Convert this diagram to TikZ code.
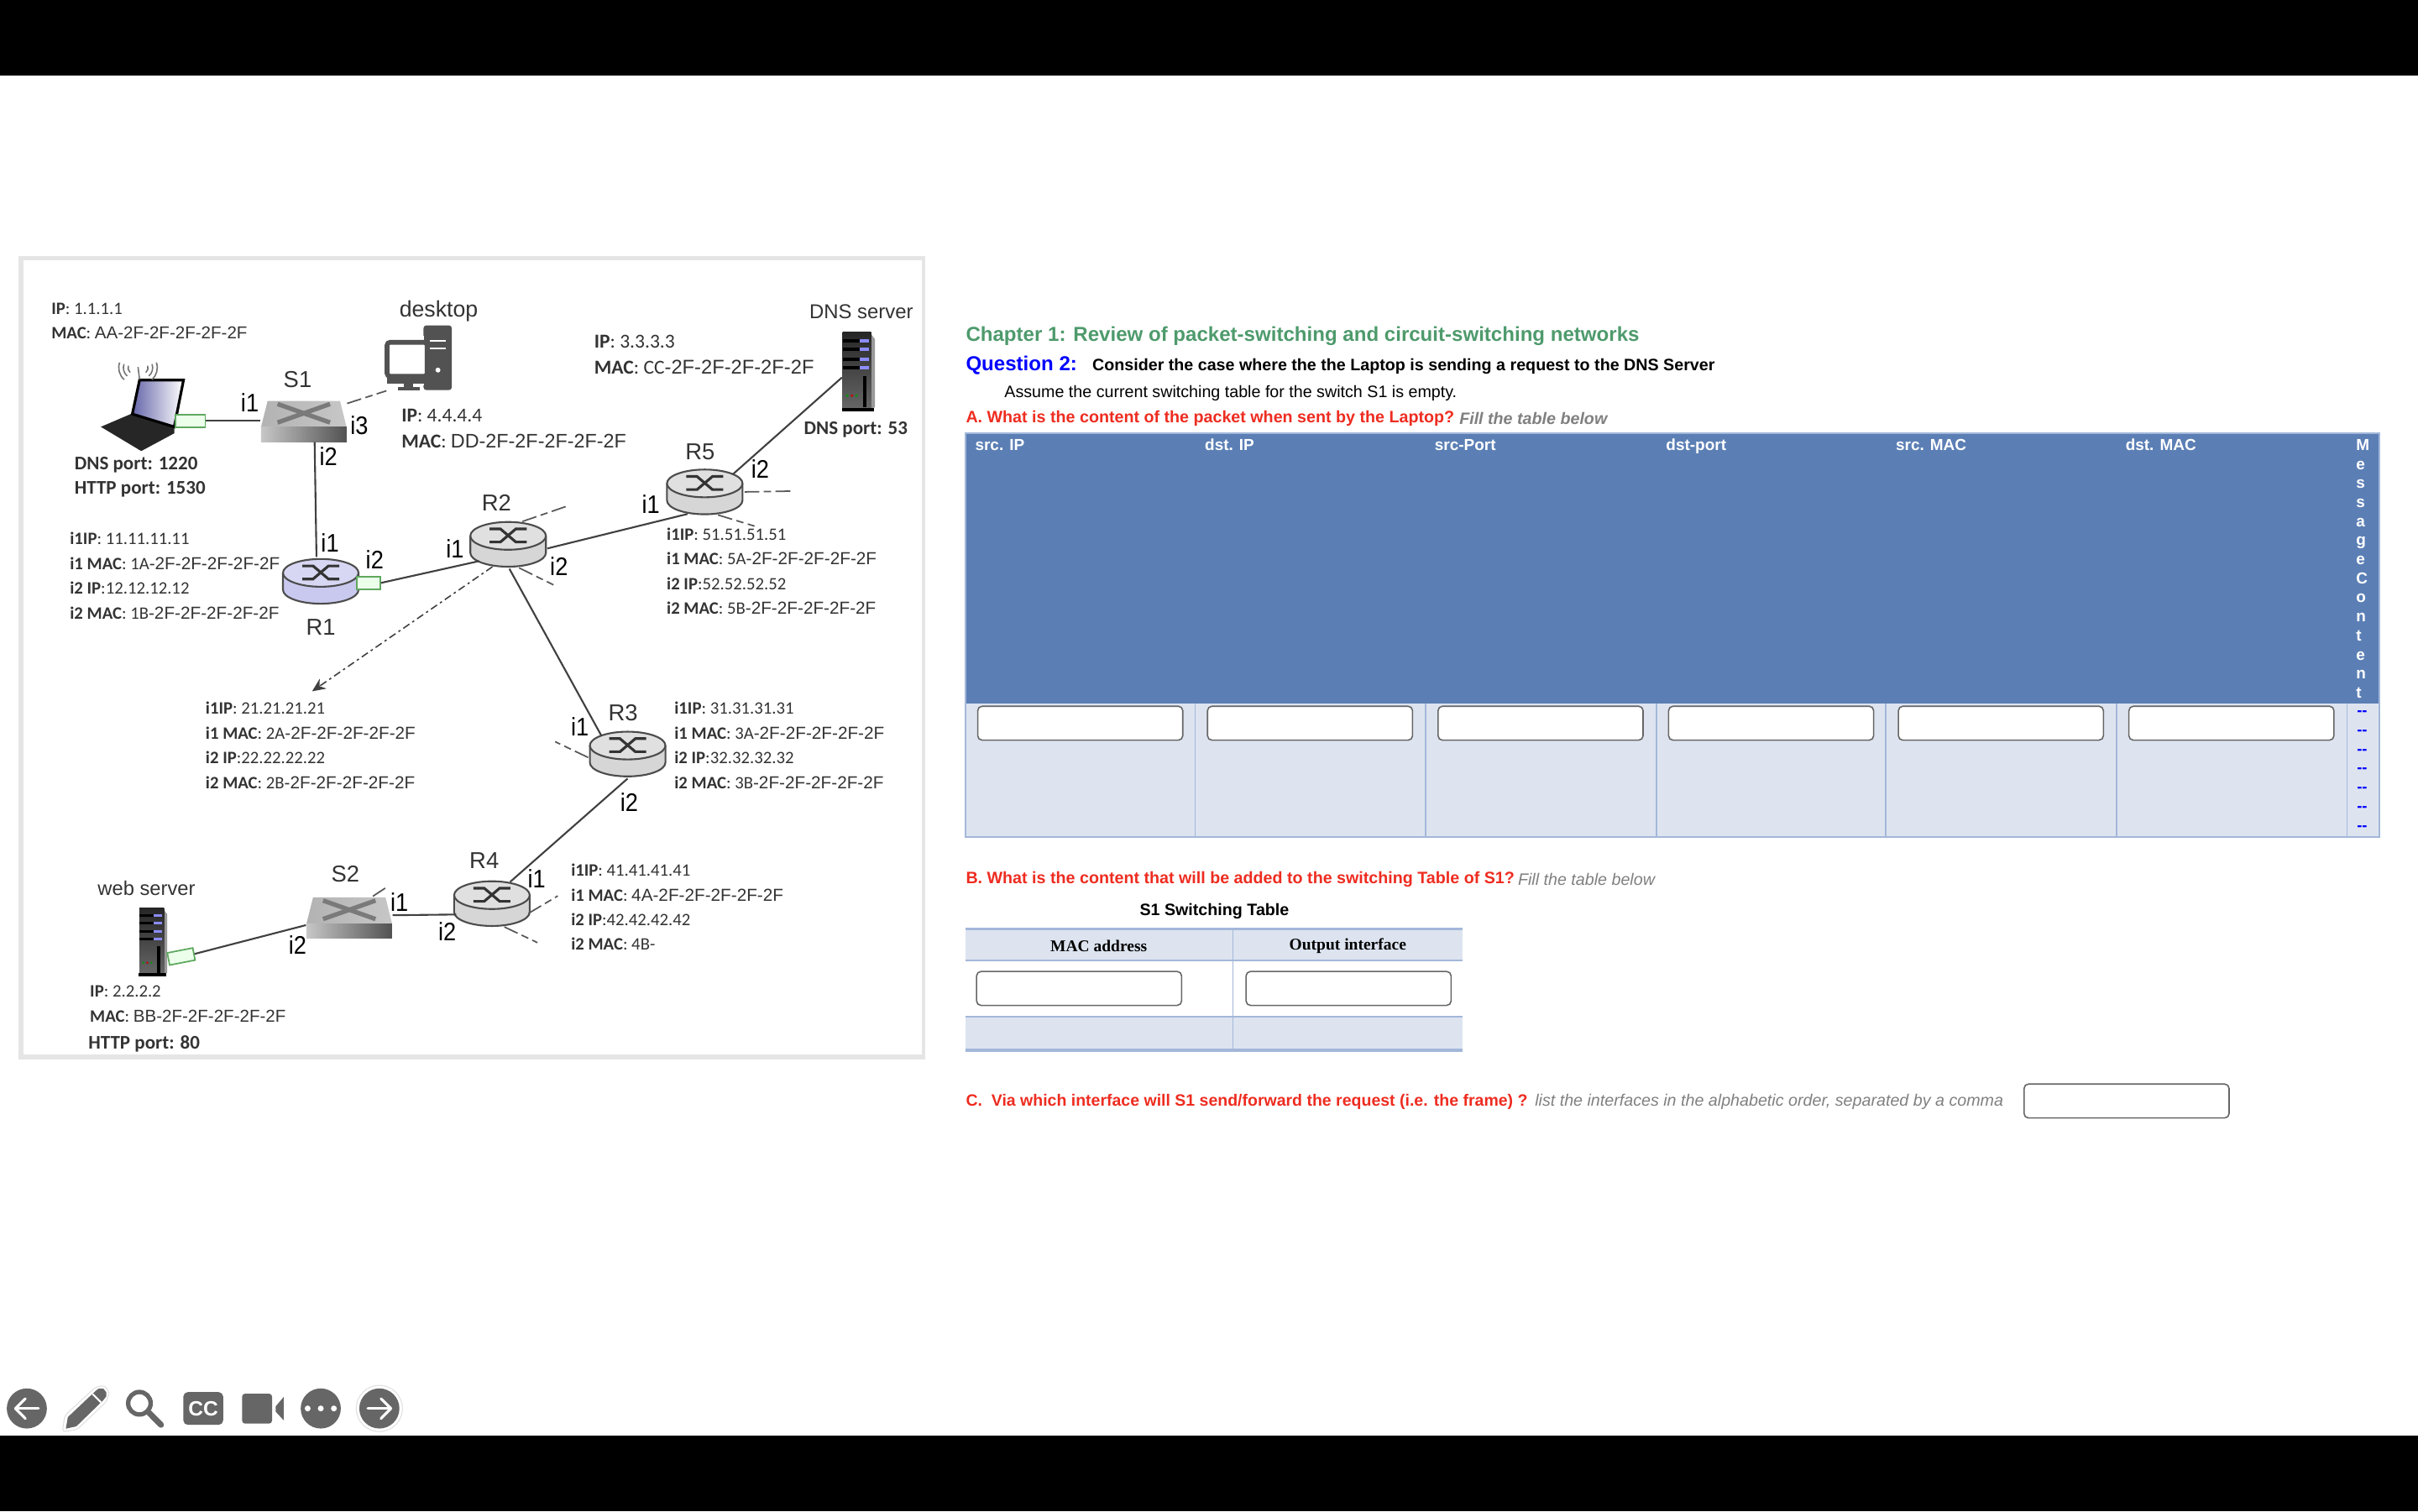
\documentclass[tikz,border=0pt]{standalone}
\usepackage{fontspec}
\usepackage{tikz}
\usetikzlibrary{shapes.geometric,arrows.meta}
\setmainfont{Liberation Sans}
\newfontfamily\addrfont{Carlito}
\newfontfamily\headfont{Liberation Serif}

\definecolor{barblue}{HTML}{5B7FB5}
\definecolor{rowblue}{HTML}{DDE4F0}
\definecolor{ruleblue}{HTML}{A3B7D9}
\definecolor{titlegreen}{HTML}{4E9A6C}
\definecolor{askred}{HTML}{EE2C20}
\definecolor{hintgray}{HTML}{808080}
\definecolor{icongray}{HTML}{666666}
\definecolor{routergray}{HTML}{D6D6D6}
\definecolor{routerblue}{HTML}{C9C9F0}
\definecolor{portgreen}{HTML}{5FA85F}

\newcommand{\sized}[2]{{\normalfont\fontsize{#1}{8.36}\selectfont #2}}

\tikzset{
  link/.style={draw=black!75, line width=0.6pt},
  sidelink/.style={draw=black!65, line width=0.5pt, dash pattern=on 5pt off 1.5pt on 2.5pt off 1.5pt},
  addr/.style={font=\addrfont\fontsize{5.9}{8.36}\selectfont, text=black!80, inner sep=0pt, align=left, anchor=north west},
  addrbig/.style={addr, font=\addrfont\fontsize{6.7}{8.7}\selectfont},
  portnote/.style={addr, font=\addrfont\bfseries\fontsize{6.55}{8.36}\selectfont},
  iface/.style={font=\fontsize{8.6}{10}\selectfont, inner sep=0pt, transform shape, xscale=0.9},
  devname/.style={font=\fontsize{7.8}{9}\selectfont, text=black!80, inner sep=0pt},
  portbox/.style={draw=portgreen, fill=green!8, line width=0.5pt, inner sep=0pt},
  routerbox/.style={ellipse, inner sep=0pt, minimum width=26.6pt, minimum height=16.2pt},
  switchbox/.style={rectangle, inner sep=0pt, minimum width=29pt, minimum height=14pt},
  entrybox/.style={draw=black!60, fill=white, rounded corners=1.5pt, line width=0.45pt, inner sep=0pt, minimum width=69.5pt, minimum height=11.5pt},
  pagetext/.style={font=\fontsize{5.6}{6.8}\selectfont, inner sep=0pt, anchor=west},
  headtext/.style={font=\bfseries\fontsize{5.4}{6.5}\selectfont, inner sep=0pt, anchor=base west, text=white},
  asktext/.style={pagetext, font=\bfseries\fontsize{5.6}{6.8}\selectfont, text=askred},
  hinttext/.style={pagetext, font=\itshape\fontsize{5.6}{6.8}\selectfont, text=hintgray},
  iconarrow/.style={draw=white, line width=0.9pt, line cap=round, line join=round},
}

% router: body, top disc and the crossed arrows
\newcommand{\router}[3]{
  \begin{scope}[shift={(#2)}]
    \draw[fill=#3, line width=0.6pt, draw=black!70] (-24.5,-5.5) -- (-24.5,5.5) arc[start angle=180, end angle=0, x radius=24.5, y radius=9] -- (24.5,-5.5);
    \draw[fill=#3!75!white, line width=0.6pt, draw=black!70] (0,-5.5) ellipse [x radius=24.5, y radius=9];
    \draw[black!80, line width=0.9pt] (-12,-10) -- (-5,-10) -- (5,-1.5) -- (12,-1.5);
    \draw[black!80, line width=0.9pt] (-12,-1.5) -- (-5,-1.5) -- (5,-10) -- (12,-10);
  \end{scope}
  \node[routerbox] (#1) at (#2) {};
}
% switch: top face with the cross and shaded front
\newcommand{\switch}[2]{
  \begin{scope}[shift={(#2)}]
    \shade[left color=black!30, right color=black!22] (-23.5,-13) -- (23.5,-13) -- (27.75,4) -- (-27.75,4) -- cycle;
    \shade[left color=black!22, right color=black!68] (-27.75,4) rectangle (27.75,13.5);
    \draw[black!52, line width=1.5pt] (-17,1) -- (17,-11);
    \draw[black!52, line width=1.5pt] (-17,-11) -- (17,1);
  \end{scope}
  \node[switchbox] (#1) at (#2) {};
}
% server tower with its lights
\newcommand{\server}[3]{
  \begin{scope}[shift={(#2)}, scale=#3]
    \fill[black!40] (8,-25) -- (11,-21) -- (11,23) -- (8,25) -- cycle;
    \shade[top color=black!85, bottom color=black!60] (-10,-25.5) rectangle (8.5,24);
    \foreach \rowy in {-20,-14.5,-8,-2.5} {
      \fill[black] (-10,\rowy-1) rectangle (1,\rowy+1);
      \fill[blue!45!white] (1,\rowy-1) rectangle (7,\rowy+1);
    }
    \fill[black] (3.5,3) rectangle (5.5,23);
    \fill[green!60!black] (-7,15.5) circle (0.9);
    \fill[red!80!black] (-4,15.5) circle (0.9);
    \fill[green!60!black] (-1,15.5) circle (0.9);
    \fill[black] (-10.5,23.5) rectangle (10.5,26);
  \end{scope}
  \node[rectangle, inner sep=0pt, minimum width=#3*10.5pt, minimum height=#3*26.7pt] (#1) at (#2) {};
}

\begin{document}
\begin{tikzpicture}[x=0.018367cm, y=-0.018367cm]
\useasboundingbox (0,0) rectangle (1568,980);
\fill[white] (0,0) rectangle (1568,980);
\fill[black] (0,0) rectangle (1568,49);
\fill[black] (0,931) rectangle (1568,980);

% Frame of the network figure
\fill[black!10] (12,166) rectangle (600,687);
\fill[white] (15,169) rectangle (598,684);

% Devices
\router{R1}{208,377}{routerblue}
\router{R2}{329.5,353}{routergray}
\router{R3}{407,489}{routergray}
\router{R4}{319,586}{routergray}
\router{R5}{457,319}{routergray}
\switch{S1}{197,273}
\switch{S2}{226.5,595}
\server{DNS}{556.4,241}{1}
\server{web}{99,611}{0.86}

% Laptop with its antenna waves
\fill[black!85] (65.4,276.8) -- (86,268) -- (113,277) -- (113,281) -- (91.6,292.5) -- cycle;
\shade[left color=blue!45!black!60!white, right color=white, draw=black, line width=0.9pt] (90.5,246.5) -- (119,246.5) -- (113,276.8) -- (85.8,268.5) -- cycle;
\node[rectangle, inner sep=0pt, minimum width=25pt, minimum height=24pt] (laptop) at (92,269) {};
\foreach \wave in {4,7,10} {
  \draw[black!55, line width=0.45pt] (87,238.5) ++(200:\wave) arc[start angle=200, end angle=130, radius=\wave];
  \draw[black!55, line width=0.45pt] (92,238.5) ++(-20:\wave) arc[start angle=-20, end angle=50, radius=\wave];
}
\draw[black!55, line width=0.45pt] (89.5,238) -- (90.5,246);

% Desktop icon
\fill[black!68, rounded corners=1pt] (274.6,211) rectangle (293,253);
\fill[white] (272,218) rectangle (275,250);
\draw[white, line width=0.6pt] (279,221) -- (289,221);
\draw[white, line width=0.6pt] (279,226) -- (289,226);
\fill[white] (284,240) circle (1.6);
\draw[black!68, line width=1.6pt, fill=white, rounded corners=1pt] (251,222) rectangle (277,244);
\fill[black!68] (251,243) rectangle (277,249);
\fill[black!68] (262,249) rectangle (268,251);
\fill[black!68] (258,251) rectangle (272,253);
\node[rectangle, inner sep=0pt, minimum width=22pt, minimum height=22pt] (desktop) at (272,232) {};

% Green port stubs
\node[portbox, minimum width=10pt, minimum height=4.4pt] (lapport) at (123.5,273) {};
\node[portbox, minimum width=8pt, minimum height=4.2pt] (rport) at (239,378) {};
\node[portbox, rotate=11, minimum width=8.8pt, minimum height=4.2pt] (webport) at (117.5,620.3) {};

% Solid links
\draw[link] (lapport.east) -- (S1.west);
\draw[link] (S1.-63) -- (R1.100);
\draw[link] (rport.east) -- (R2.210);
\draw[link] (R2.-6) -- (R5.232);
\draw[link] (R2.-87) -- (R3.145);
\draw[link] (R3.-90) -- (R4.50);
\draw[link] (R5.32) -- (DNS.200);
\draw[link] (S2.3) -- (R4.197);
\draw[link] (webport.east) -- (S2.190);

% Links that lead out of the figure
\coordinate (r2up) at (368.4,328);
\coordinate (r2down) at (358.9,379.3);
\coordinate (r5right) at (513,318.5);
\coordinate (r5down) at (489.3,341.2);
\coordinate (r3left) at (360,481);
\coordinate (r4right) at (361.7,581);
\coordinate (r4down) at (348.5,611.3);
\coordinate (s2up) at (252,574.5);
\coordinate (r2far) at (202.4,448.3);
\draw[sidelink] (S1.22) -- (desktop.-135);
\draw[sidelink] (R2.58) -- (r2up);
\draw[sidelink] (R2.-65) -- (r2down);
\draw[sidelink] (R5.east) -- (r5right);
\draw[sidelink] (R5.-60) -- (r5down);
\draw[sidelink] (R3.185) -- (r3left);
\draw[sidelink] (R4.-15) -- (r4right);
\draw[sidelink] (R4.-62) -- (r4down);
\draw[sidelink] (S2.42) -- (s2up);
% Dash-dotted branch with arrow towards the R2 table
\draw[-{Stealth[length=4.5pt,width=4pt]}, black!75, line width=0.45pt, dash pattern=on 2.5pt off 1.2pt on 0.8pt off 1.2pt] (R2.-125) -- (r2far);

% Device names
\node[devname] (nameS1) at (193,246) {S1};
\node[devname] (nameS2) at (224,567) {S2};
\node[devname] (nameR1) at (208,407) {R1};
\node[devname] (nameR2) at (322,326) {R2};
\node[devname] (nameR3) at (404,462) {R3};
\node[devname] (nameR4) at (314,558) {R4};
\node[devname] (nameR5) at (454,293) {R5};
\node[devname, font=\fontsize{7.6}{9}\selectfont] (nameDesktop) at (284.5,202) {desktop};
\node[devname, font=\fontsize{6.8}{9}\selectfont] (nameDNS) at (558.5,202) {DNS server};
\node[devname, font=\fontsize{6.75}{9}\selectfont] (nameWeb) at (95,576) {web server};

% Interface names
\node[iface] (ifS1a) at (162,261) {i1};
\node[iface] (ifS1b) at (213,296) {i2};
\node[iface] (ifS1c) at (233,276) {i3};
\node[iface] (ifR1a) at (214,352) {i1};
\node[iface] (ifR1b) at (243,363) {i2};
\node[iface] (ifR2a) at (295,356) {i1};
\node[iface] (ifR2b) at (362.5,367.5) {i2};
\node[iface] (ifR5a) at (422,327) {i1};
\node[iface] (ifR5b) at (493,304) {i2};
\node[iface] (ifR3a) at (376,471) {i1};
\node[iface] (ifR3b) at (408,520) {i2};
\node[iface] (ifR4a) at (348,570) {i1};
\node[iface] (ifR4b) at (290,604) {i2};
\node[iface] (ifS2a) at (259,585) {i1};
\node[iface] (ifS2b) at (193,613) {i2};

% Address notes
\node[addr] (laptopInfo) at (33,196) {{\bfseries IP}: 1.1.1.1\\{\bfseries MAC}: \sized{5.85}{AA-2F-2F-2F-2F-2F}};
\node[portnote] (laptopPorts) at (48,296) {DNS port: 1220\\HTTP port: 1530};
\node[addrbig] (desktopInfo) at (260,265) {{\bfseries IP}: 4.4.4.4\\{\bfseries MAC}: \sized{6.65}{DD-2F-2F-2F-2F-2F}};
\node[addrbig] (dnsInfo) at (385,217) {{\bfseries IP}: 3.3.3.3\\{\bfseries MAC}: CC\sized{6.75}{-2F-2F-2F-2F-2F}};
\node[portnote] (dnsPort) at (521,273) {DNS port: 53};
\node[addr] (r1Info) at (45,345) {{\bfseries i1IP}: 11.11.11.11\\{\bfseries i1 MAC}: 1A\sized{5.9}{-2F-2F-2F-2F-2F}\\{\bfseries i2 IP}:12.12.12.12\\{\bfseries i2 MAC}: 1B\sized{5.9}{-2F-2F-2F-2F-2F}};
\node[addr] (r2Info) at (133,455) {{\bfseries i1IP}: 21.21.21.21\\{\bfseries i1 MAC}: 2A\sized{5.9}{-2F-2F-2F-2F-2F}\\{\bfseries i2 IP}:22.22.22.22\\{\bfseries i2 MAC}: 2B\sized{5.9}{-2F-2F-2F-2F-2F}};
\node[addr] (r3Info) at (437,455) {{\bfseries i1IP}: 31.31.31.31\\{\bfseries i1 MAC}: 3A\sized{5.9}{-2F-2F-2F-2F-2F}\\{\bfseries i2 IP}:32.32.32.32\\{\bfseries i2 MAC}: 3B\sized{5.9}{-2F-2F-2F-2F-2F}};
\node[addr] (r4Info) at (370,560) {{\bfseries i1IP}: 41.41.41.41\\{\bfseries i1 MAC}: \sized{5.9}{4A-2F-2F-2F-2F-2F}\\{\bfseries i2 IP}:42.42.42.42\\{\bfseries i2 MAC}: 4B-};
\node[addr] (r5Info) at (432,342) {{\bfseries i1IP}: 51.51.51.51\\{\bfseries i1 MAC}: 5A\sized{5.9}{-2F-2F-2F-2F-2F}\\{\bfseries i2 IP}:52.52.52.52\\{\bfseries i2 MAC}: 5B\sized{5.9}{-2F-2F-2F-2F-2F}};
\node[addr] (webInfo) at (58,639) {{\bfseries IP}: 2.2.2.2\\{\bfseries MAC}: \sized{5.85}{BB-2F-2F-2F-2F-2F}};
\node[portnote] (webPort) at (57,671) {HTTP port: 80};

% Question text
\node[pagetext, font=\bfseries\fontsize{6.85}{8}\selectfont, text=titlegreen] (chapter) at (626,217.8) {Chapter 1: Review of packet-switching and circuit-switching networks};
\node[pagetext, font=\bfseries\fontsize{6.85}{8}\selectfont, text=blue] (question) at (626,237) {Question 2:};
\node[pagetext, font=\bfseries\fontsize{5.6}{6.8}\selectfont] (consider) at (708,237.5) {Consider the case where the the Laptop is sending a request to the DNS Server};
\node[pagetext] (assume) at (651,255) {Assume the current switching table for the switch S1 is empty.};
\node[asktext] (askA) at (626,271.5) {A. What is the content of the packet when sent by the Laptop?};
\node[hinttext, font=\bfseries\itshape\fontsize{5.6}{6.8}\selectfont] (hintA) at (946,271.5) {Fill the table below};

% Packet table
\fill[barblue] (626,281) rectangle (1543,456);
\fill[rowblue] (626,456) rectangle (1543,543);
\draw[ruleblue, line width=0.5pt] (626,281) rectangle (1543,543);
\foreach \colx in {775,924.5,1074,1223,1372.5,1522} {
  \draw[ruleblue, line width=0.5pt] (\colx,456) -- (\colx,543);
}
\foreach \colx/\headname/\tag in {632/src. IP/a,781/dst. IP/b,930/src-Port/c,1080/dst-port/d,1229/src. MAC/e,1378/dst. MAC/f} {
  \node[headtext] (head\tag) at (\colx,292) {\headname};
}
\foreach \boxx/\tag in {700.5/a,849.5/b,999/c,1148.5/d,1297.5/e,1447/f} {
  \node[entrybox] (pkt\tag) at (\boxx,469) {};
}
\foreach \ch [count=\n from 0] in {M,e,s,s,a,g,e,C,o,n,t,e,n,t} {
  \node[headtext] (msg\n) at (1527.5,292+12.36*\n) {\ch};
}
\foreach \n in {0,...,6} {
  \node[pagetext, font=\bfseries\fontsize{5.3}{6.5}\selectfont, text=blue] (dash\n) at (1528,462.5+12.4*\n) {-{}-};
}

% Switching table
\node[asktext] (askB) at (626,570.5) {B. What is the content that will be added to the switching Table of S1?};
\node[hinttext] (hintB) at (984,570.5) {Fill the table below};
\node[pagetext, font=\bfseries\fontsize{5.6}{6.8}\selectfont, anchor=center] (swTitle) at (787.5,591) {S1 Switching Table};
\fill[rowblue] (626,602) rectangle (948.5,623);
\fill[rowblue] (626,659.5) rectangle (948.5,681);
\draw[ruleblue, line width=1pt] (626,602.5) -- (948.5,602.5);
\draw[ruleblue, line width=0.5pt] (626,623) -- (948.5,623);
\draw[ruleblue, line width=0.5pt] (626,659.5) -- (948.5,659.5);
\draw[ruleblue, line width=1pt] (626,681) -- (948.5,681);
\draw[ruleblue, line width=0.5pt] (799.5,602) -- (799.5,681);
\node[font=\headfont\bfseries\fontsize{5.55}{6.8}\selectfont, inner sep=0pt] (swMac) at (712.5,613.5) {MAC address};
\node[font=\headfont\bfseries\fontsize{5.55}{6.8}\selectfont, inner sep=0pt] (swOut) at (874,613.5) {Output interface};
\node[entrybox] (swBoxA) at (699.75,641) {};
\node[entrybox] (swBoxB) at (874.5,641) {};

\node[asktext, font=\bfseries\fontsize{5.55}{6.8}\selectfont] (askC) at (626,714.5) {C.\ \ Via which interface will S1 send/forward the request (i.e. the frame) ?};
\node[hinttext] (hintC) at (995,714.5) {list the interfaces in the alphabetic order, separated by a comma};
\node[entrybox] (frameBox) at (1379,714) {};

% Player controls
\fill[icongray] (17.4,913.4) circle (13);
\draw[iconarrow] (10,913.4) -- (25,913.4);
\draw[iconarrow] (16.5,907) -- (10,913.4) -- (16.5,920);
\draw[black!12, line width=0.3pt, rounded corners=1pt] (40.5,928.5) -- (42,918) -- (62,899.5) -- (68,898.5) -- (71,903) -- (69,909) -- (50,927) -- cycle;
\fill[icongray] (42.7,926.5) -- (44,919) -- (62,902) -- (64,900.5) -- (67,900.5) -- (69,903) -- (69,905.5) -- (67,908) -- (49.5,925) -- cycle;
\draw[white, line width=0.6pt] (60,904) -- (65.5,909.5);
\draw[icongray, line width=1.5pt] (90.4,910) circle (7.3);
\draw[icongray, line width=2pt, line cap=round] (96,915.5) -- (104.4,924);
\fill[icongray, rounded corners=1.5pt] (118.9,902.8) rectangle (144.7,924);
\node[font=\bfseries\fontsize{7}{8}\selectfont, text=white, inner sep=0pt] (ccmark) at (131.8,913.4) {CC};
\fill[icongray, rounded corners=1pt] (157,903.8) rectangle (176.4,923.2);
\fill[icongray] (178.8,912) -- (183.9,906) -- (183.9,921) -- (178.8,915.5) -- cycle;
\fill[icongray] (208,913.4) circle (13);
\foreach \dotx in {199.5,208,216.5} {
  \fill[white] (\dotx,913.4) circle (1.9);
}
\draw[black!12, line width=0.3pt] (246,913.4) circle (15);
\fill[icongray] (246,913.4) circle (13);
\draw[iconarrow] (238.5,913.4) -- (253.5,913.4);
\draw[iconarrow] (247,907) -- (253.5,913.4) -- (247,920);
\end{tikzpicture}
\end{document}
